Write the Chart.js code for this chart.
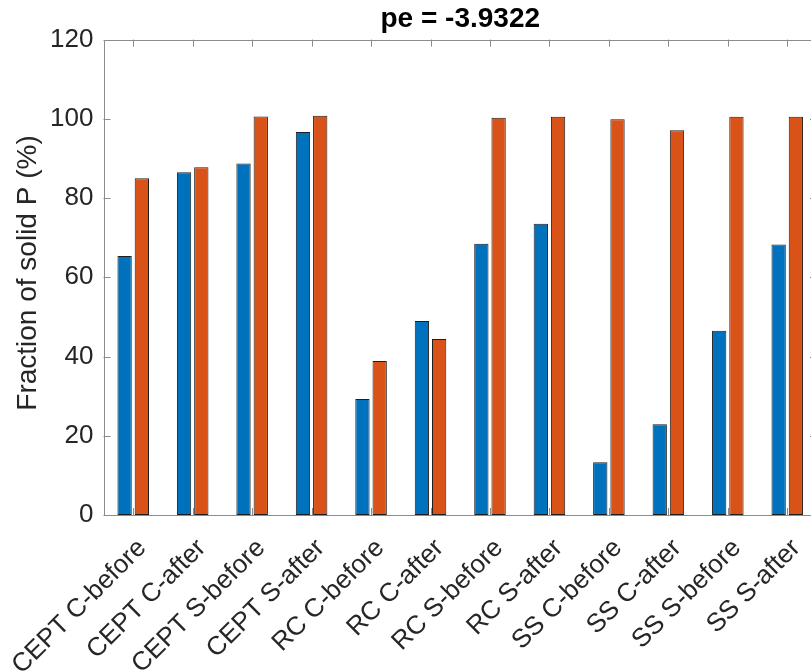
<!DOCTYPE html>
<html>
<head>
<meta charset="utf-8">
<script src="https://cdn.jsdelivr.net/npm/chart.js@4.4.0/dist/chart.umd.min.js"></script>
<style>
  body { margin: 0; background: #fff; }
  #wrap { width: 811px; height: 672px; overflow: hidden; }
  canvas { display: block; }
</style>
</head>
<body>
<div id="wrap"><canvas id="myChart" width="822" height="672"></canvas></div>
<script>
// Values
const categories = [
  "CEPT C-before", "CEPT C-after", "CEPT S-before", "CEPT S-after",
  "RC C-before", "RC C-after", "RC S-before", "RC S-after",
  "SS C-before", "SS C-after", "SS S-before", "SS S-after"
];
const seriesA = [65.4, 86.5, 88.7, 96.7, 29.3, 49.0, 68.5, 73.5, 13.3, 22.9, 46.5, 68.3];
const seriesB = [85.0, 87.8, 100.6, 100.8, 38.9, 44.4, 100.3, 100.5, 99.9, 97.1, 100.5, 100.5];
const yTicks = [0, 20, 40, 60, 80, 100, 120];
const titleText = "pe = -3.9322";
const yLabel = "Fraction of solid P (%)";

const FONT = "'Liberation Sans', Arial, Helvetica, sans-serif";
const AXIS = "#8c8c8c";
const TEXT = "#262626";

// MATLAB-style box with inward ticks and the y label
const boxPlugin = {
  id: "box",
  beforeDatasetsDraw(c) {
    const { ctx, chartArea: a, scales } = c;
    ctx.save();
    ctx.strokeStyle = AXIS;
    ctx.lineWidth = 1;
    ctx.beginPath();
    const tl = 7;
    yTicks.forEach(v => {
      const y = Math.round(scales.y.getPixelForValue(v)) + 0.5;
      ctx.moveTo(a.left, y); ctx.lineTo(a.left + tl, y);
      ctx.moveTo(a.right, y); ctx.lineTo(a.right - tl, y);
    });
    categories.forEach((_, i) => {
      const x = Math.round(scales.x.getPixelForValue(i)) + 0.5;
      ctx.moveTo(x, a.top); ctx.lineTo(x, a.top + tl);
      ctx.moveTo(x, a.bottom); ctx.lineTo(x, a.bottom - tl);
    });
    ctx.stroke();
    ctx.restore();
  },
  afterDraw(c) {
    const { ctx, chartArea: a } = c;
    ctx.save();
    ctx.strokeStyle = AXIS;
    ctx.lineWidth = 1;
    ctx.strokeRect(Math.round(a.left) + 0.5, Math.round(a.top) + 0.5,
                   Math.round(a.right - a.left), Math.round(a.bottom - a.top));
    ctx.translate(28, 273);
    ctx.rotate(-Math.PI / 2);
    ctx.fillStyle = TEXT;
    ctx.font = "28px " + FONT;
    ctx.textAlign = "center";
    ctx.textBaseline = "middle";
    ctx.fillText(yLabel, 0, 0);
    ctx.restore();
  }
};

new Chart(document.getElementById("myChart"), {
  type: "bar",
  data: {
    labels: categories,
    datasets: [
      { data: seriesA, backgroundColor: "#0072BD" },
      { data: seriesB, backgroundColor: "#D95319" }
    ]
  },
  options: {
    responsive: false,
    animation: false,
    layout: { padding: { left: 0, right: 5, top: 0, bottom: 0 } },
    datasets: {
      bar: {
        categoryPercentage: 0.58,
        barPercentage: 0.83,
        borderWidth: 1,
        borderColor: "#1e1e1e",
        borderSkipped: false
      }
    },
    plugins: {
      legend: { display: false },
      tooltip: { enabled: false },
      title: {
        display: true,
        text: titleText,
        fullSize: false,
        color: "#000",
        font: { family: FONT, size: 28, weight: "bold" },
        padding: { top: 2, bottom: 4 }
      }
    },
    scales: {
      x: {
        grid: { display: false, drawTicks: false },
        border: { display: false },
        ticks: {
          color: TEXT,
          font: { family: FONT, size: 26 },
          minRotation: 45,
          maxRotation: 45,
          padding: 18,
          labelOffset: 9,
          autoSkip: false
        },
        afterFit(s) { s.height = 157; s.paddingLeft = 0; s.paddingRight = 0; }
      },
      y: {
        min: 0,
        max: 120,
        grid: { display: false, drawTicks: false },
        border: { display: false },
        ticks: {
          stepSize: 20,
          color: TEXT,
          font: { family: FONT, size: 26 },
          padding: 10
        },
        afterFit(s) { s.width = 103.5; s.paddingTop = 0; s.paddingBottom = 0; }
      }
    }
  },
  plugins: [boxPlugin]
});
</script>
</body>
</html>
